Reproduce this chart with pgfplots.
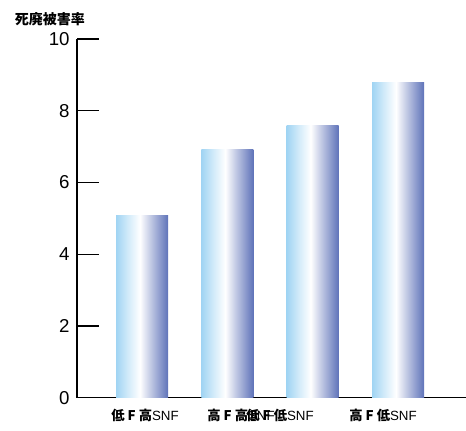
\documentclass[border=0pt]{standalone}
\usepackage{fontspec}
\setmainfont{Liberation Sans}
\newfontfamily\cjk{Noto Sans CJK JP}
\usepackage{pgfplots}
\pgfplotsset{compat=1.18}

% light blue -> white -> slate blue, across each bar
\definecolor{barleft}{RGB}{160,212,243}
\definecolor{barright}{RGB}{95,115,185}
\pgfdeclarehorizontalshading{barshade}{100bp}{%
  color(0bp)=(barleft); color(25bp)=(barleft);
  color(36bp)=(barleft!50!white); color(48bp)=(white);
  color(58bp)=(barright!38!white);
  color(75bp)=(barright); color(100bp)=(barright)}

\begin{document}
\begin{tikzpicture}
\begin{axis}[
  x=64pt, y=26.9pt,
  xmin=-0.762, xmax=3.797,
  ymin=0, ymax=10,
  axis lines*=left,
  axis line style={line width=1pt},
  clip=false,
  ytick={0,2,4,6,8,10},
  ytick pos=left,
  tick align=inside,
  major tick length=16.5pt,
  ytick style={line width=1pt, black},
  /pgf/number format/assume math mode=true,
  yticklabel style={font=\fontsize{14}{16}\selectfont, xshift=-2pt},
  xtick={0.035,1.16,1.617,2.824},
  xticklabels={
    {{\cjk\bfseries 低 F 高}SNF},
    {{\cjk\bfseries 高 F 高}SNF},
    {{\cjk\bfseries 低 F 低}SNF},
    {{\cjk\bfseries 高 F 低}SNF}},
  xtick style={draw=none},
  xticklabel style={font=\fontsize{10}{12}\selectfont, yshift=-5pt},
  shadedbar/.style={ybar, bar width=39pt, bar shift=0pt,
    draw=none, mark=none, shading=barshade},
]
% one plot per bar, so that each bar carries its own gradient
\addplot[shadedbar] coordinates {(0,5.07)};
\addplot[shadedbar] coordinates {(1,6.91)};
\addplot[shadedbar] coordinates {(2,7.58)};
\addplot[shadedbar] coordinates {(3,8.80)};
\coordinate (tl) at (rel axis cs:0,1);
\node[font=\cjk\bfseries\fontsize{10.5}{12}\selectfont]
  at ([shift={(-20.25pt,15pt)}]rel axis cs:0,1) {死廃被害率};
\end{axis}
\pgfresetboundingbox
\path ([shift={(-57.75pt,29.25pt)}]tl) rectangle ([shift={(291.75pt,-293.25pt)}]tl);
\end{tikzpicture}
\end{document}
